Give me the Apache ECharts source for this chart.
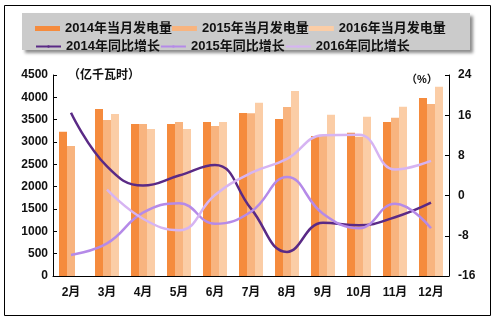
<!DOCTYPE html>
<html>
<head>
<meta charset="utf-8">
<script src="https://cdn.jsdelivr.net/npm/echarts@6/dist/echarts.min.js"></script>
<style>
  html, body { margin: 0; padding: 0; background: #fff; }
  #chart { width: 497px; height: 323px; }
</style>
</head>
<body>
<div id="chart"></div>
<script>
// Monthly generation (亿千瓦时) and year-on-year growth (%)
var months = ['2月', '3月', '4月', '5月', '6月', '7月', '8月', '9月', '10月', '11月', '12月'];

var gen2014 = [3231, 3739, 3403, 3403, 3448, 3649, 3515, 3135, 3209, 3448, 3985];
var gen2015 = [2911, 3493, 3403, 3448, 3358, 3645, 3784, 3135, 3120, 3545, 3851];
var gen2016 = [null, 3627, 3291, 3291, 3448, 3880, 4142, 3612, 3567, 3791, 4239];

var yoy2014 = [16.5, 5.8, 2.0, 4.0, 6.1, -2.6, -11.2, -5.4, -5.9, -4.3, -1.4];
var yoy2015 = [-11.8, -9.5, -3.4, -1.5, -5.6, -3.2, 3.7, -3.6, -6.5, -1.6, -6.5];
var yoy2016 = [null, 1.2, -4.6, -6.9, 0.1, 4.5, 7.3, 12.0, 12.1, 5.2, 6.9];

var leftTicks = { min: 0, max: 4500, interval: 500 };
var rightTicks = { min: -16, max: 24, interval: 8 };

var FONT = '"Liberation Sans", Arial, "Noto Sans CJK SC", sans-serif';
var barColors = ['#F58B3D', '#F8B47F', '#FBCDA6'];
var lineColors = ['#5A2A86', '#B58AE8', '#D6B4F2'];

var chart = echarts.init(document.getElementById('chart'), null, { renderer: 'canvas' });

function legendRow(names, top, isLine) {
  return {
    top: top,
    left: 30,
    itemGap: 0,
    itemWidth: 25,
    itemHeight: isLine ? 3 : 5,
    icon: isLine ? undefined : 'rect',
    selectedMode: false,
    textStyle: {
      fontFamily: FONT, fontWeight: 'bold', fontSize: 13, color: '#111',
      width: 120, padding: [0, 0, 0, 0]
    },
    data: names
  };
}

var option = {
  backgroundColor: '#ffffff',
  animation: false,
  graphic: [
    { type: 'rect', left: 4, top: 5, z: -10,
      shape: { width: 486, height: 310 },
      style: { fill: '#fff', stroke: '#000', lineWidth: 1 } },
    { type: 'rect', left: 22, top: 13, z: 0,
      shape: { width: 448, height: 37 },
      style: { fill: '#CBCBCB', shadowColor: 'rgba(0,0,0,0.45)', shadowBlur: 3, shadowOffsetX: 3, shadowOffsetY: 3 } },
    { type: 'text', left: 68, top: 70, z: 10,
      style: { text: '（亿千瓦时）', font: 'bold 12px ' + FONT, fill: '#111' } },
    { type: 'text', left: 406, top: 74, z: 10,
      style: { text: '（%）', font: 'bold 11px ' + FONT, fill: '#111' } }
  ],
  legend: [
    legendRow(['2014年当月发电量', '2015年当月发电量', '2016年当月发电量'], 17, false),
    legendRow(['2014年同比增长', '2015年同比增长', '2016年同比增长'], 35, true)
  ],
  grid: { left: 53, right: 48, top: 75, bottom: 47, containLabel: false },
  xAxis: {
    type: 'category',
    data: months,
    boundaryGap: true,
    axisLine: { lineStyle: { color: '#000', width: 1 } },
    axisTick: { inside: true, length: 4, lineStyle: { color: '#000' } },
    axisLabel: { margin: 11, fontFamily: FONT, fontWeight: 'bold', fontSize: 12, color: '#111' }
  },
  yAxis: [
    {
      type: 'value',
      min: leftTicks.min, max: leftTicks.max, interval: leftTicks.interval,
      axisLine: { show: true, lineStyle: { color: '#000', width: 1 } },
      axisTick: { show: true, inside: true, length: 4, lineStyle: { color: '#000' } },
      splitLine: { show: false },
      axisLabel: { margin: 5, fontFamily: FONT, fontWeight: 'bold', fontSize: 12, color: '#111',
        formatter: function (v) { return String(v); } }
    },
    {
      type: 'value',
      min: rightTicks.min, max: rightTicks.max, interval: rightTicks.interval,
      axisLine: { show: true, lineStyle: { color: '#000', width: 1 } },
      axisTick: { show: true, inside: true, length: 4, lineStyle: { color: '#000' } },
      splitLine: { show: false },
      axisLabel: { margin: 9, fontFamily: FONT, fontWeight: 'bold', fontSize: 12, color: '#111',
        formatter: function (v) { return String(v); } }
    }
  ],
  series: [
    { name: '2014年当月发电量', type: 'bar', data: gen2014, barWidth: 8, barGap: '0%',
      itemStyle: { color: barColors[0] } },
    { name: '2015年当月发电量', type: 'bar', data: gen2015, barWidth: 8, barGap: '0%',
      itemStyle: { color: barColors[1] } },
    { name: '2016年当月发电量', type: 'bar', data: gen2016, barWidth: 8, barGap: '0%',
      itemStyle: { color: barColors[2] } },
    { name: '2014年同比增长', type: 'line', yAxisIndex: 1, data: yoy2014, smooth: 0.45,
      symbol: 'none', z: 5, lineStyle: { color: lineColors[0], width: 2.5 }, itemStyle: { color: lineColors[0] } },
    { name: '2015年同比增长', type: 'line', yAxisIndex: 1, data: yoy2015, smooth: 0.45,
      symbol: 'none', z: 5, lineStyle: { color: lineColors[1], width: 2.5 }, itemStyle: { color: lineColors[1] } },
    { name: '2016年同比增长', type: 'line', yAxisIndex: 1, data: yoy2016, smooth: 0.45,
      symbol: 'none', z: 5, lineStyle: { color: lineColors[2], width: 2.5 }, itemStyle: { color: lineColors[2] } }
  ]
};

chart.setOption(option);
</script>
</body>
</html>
